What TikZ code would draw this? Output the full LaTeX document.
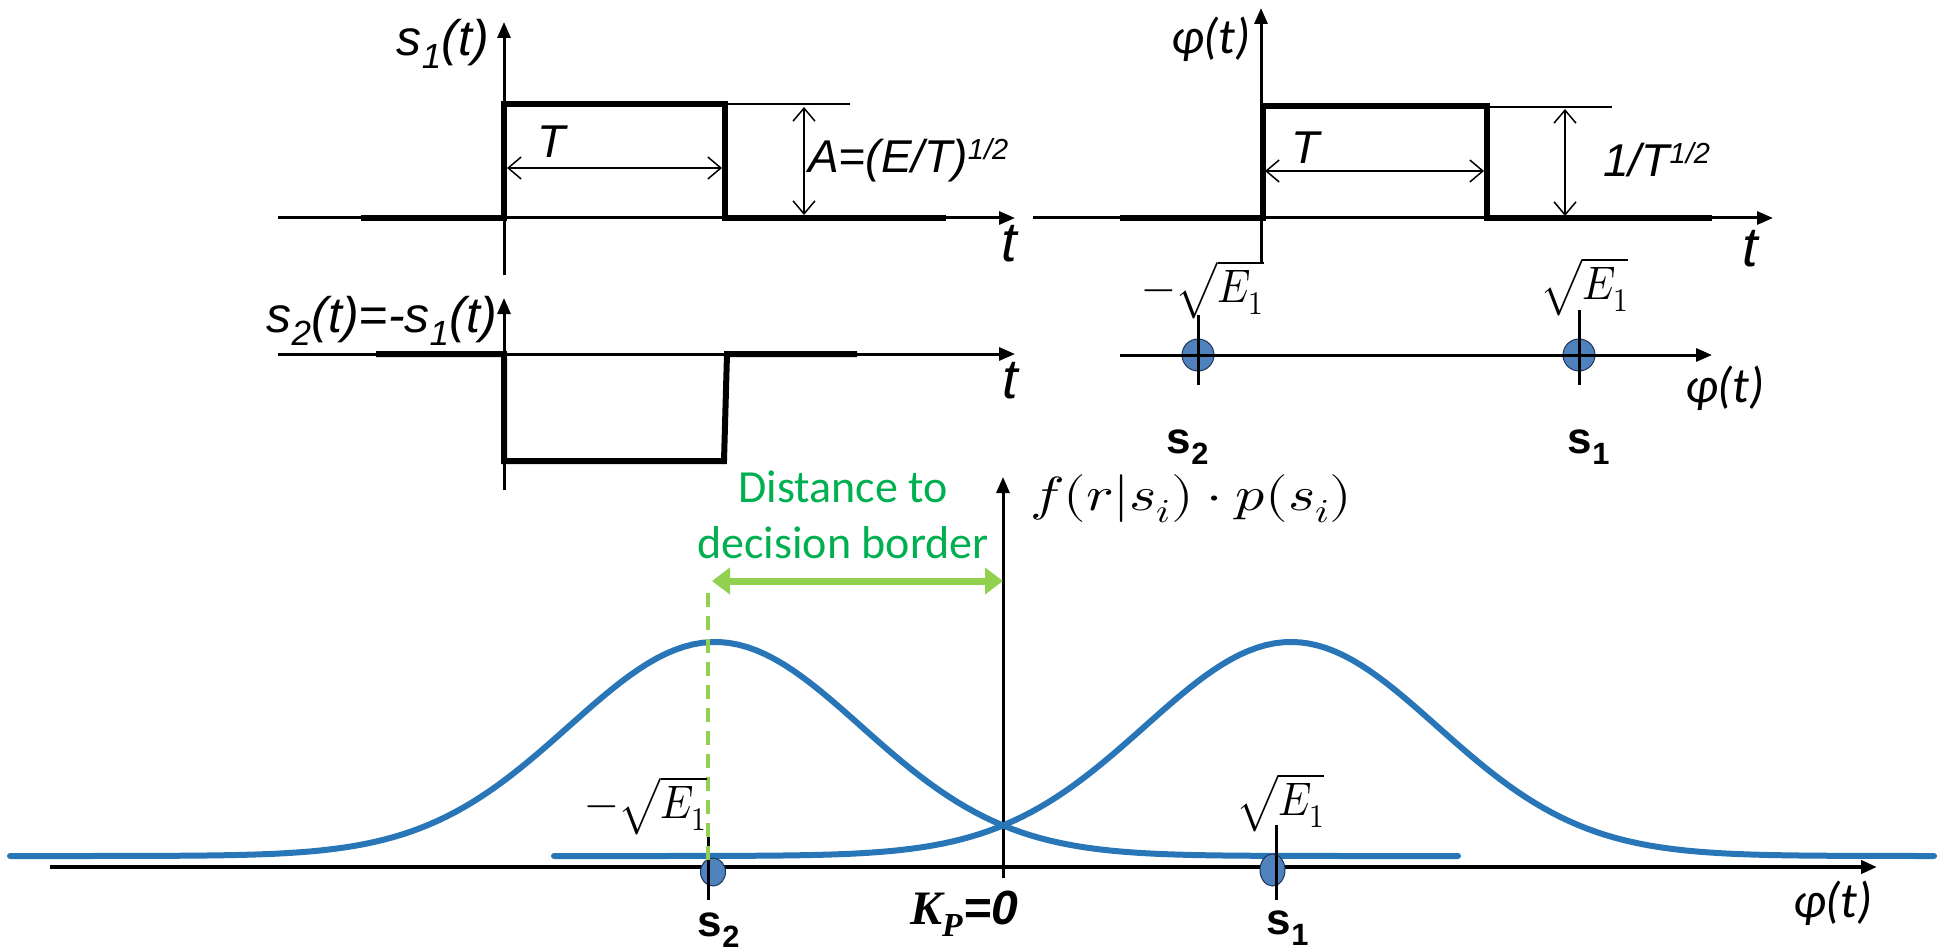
\documentclass[tikz,border=0pt]{standalone}
\usepackage{fontspec}
\usepackage{unicode-math}
\setmathfont{Latin Modern Math}
\setmainfont{Liberation Sans}
\newfontfamily\carlito{Carlito}
\newfontfamily\lserif{Liberation Serif}
\usetikzlibrary{arrows.meta}
\definecolor{gblue}{RGB}{40,118,184}
\definecolor{ptfill}{RGB}{79,129,189}
\definecolor{ptdraw}{RGB}{30,50,90}
\definecolor{lgreen}{RGB}{146,208,80}
\definecolor{tgreen}{RGB}{0,176,80}
\newcommand{\supsmall}[1]{\raisebox{13pt}{\fontsize{29}{30}\selectfont #1}}
\newcommand{\tallmath}[1]{\scalebox{1}[1.12]{#1}}
\begin{document}
\begin{tikzpicture}[x=1pt,y=-1pt,
  axis/.style={line width=3pt,-{Triangle[length=16pt,width=13pt]}},
  sig/.style={line width=6pt,line join=miter},
  thinline/.style={line width=1.5pt},
  dimarrow/.style={line width=1.5pt,{Straight Barb[length=13pt,width=22pt]}-{Straight Barb[length=13pt,width=22pt]}},
  lbl/.style={font=\fontsize{46}{50}\selectfont\itshape,inner sep=0pt},
  slbl/.style={font=\fontsize{50}{54}\selectfont\itshape,inner sep=0pt},
  tlbl/.style={font=\fontsize{56}{60}\selectfont\itshape,inner sep=0pt},
  philbl/.style={font=\fontsize{50}{54}\selectfont\carlito\itshape,inner sep=0pt},
  mlbl/.style={font=\fontsize{42}{46}\selectfont,inner sep=0pt},
  blbl/.style={font=\fontsize{44}{48}\selectfont\bfseries,inner sep=0pt},
  gtext/.style={font=\fontsize{46}{56}\selectfont\carlito,text=tgreen,align=center,inner sep=0pt},
  gauss/.style={gblue,line width=6pt,line cap=round},
  pt/.style={draw=ptdraw,fill=ptfill,line width=1pt},
  tick/.style={line width=3pt}
]
\useasboundingbox (0,0) rectangle (1939,952);

% ---------- s1(t) ----------
\draw[axis] (504,275) -- (504,22);
\draw[axis] (278,218) -- (1015,218);
\draw[sig] (361,218) -- (504,218) -- (504,104) -- (725,104) -- (725,218) -- (946,218);
\draw[thinline] (725,104) -- (850,104);
\draw[dimarrow] (804,107) -- (804,215);
\draw[dimarrow] (507,168) -- (722,168);
\node[lbl] (T1) at (552,142) {T};
\node[lbl,anchor=west] (A1) at (808,160) {A=(E/T)\supsmall{1/2}};
\node[slbl] (s1t) at (443,44) {s\textsubscript{1}(t)};
\node[tlbl] (t1) at (1009,244) {t};

% ---------- s2(t) ----------
\draw[axis] (504,490) -- (504,298);
\draw[axis] (278,354) -- (1015,354);
\draw[sig] (376,354) -- (504,354) -- (504,461) -- (724,461) -- (727,354) -- (857,354);
\node[slbl,anchor=east] (s2t) at (497,321) {s\textsubscript{2}(t)=-s\textsubscript{1}(t)};
\node[tlbl] (t2) at (1010,381) {t};

% ---------- phi(t) ----------
\draw[axis] (1261,262) -- (1261,8);
\draw[axis] (1033,218) -- (1773,218);
\draw[sig] (1120,218) -- (1263,218) -- (1263,106) -- (1487,106) -- (1487,218) -- (1712,218);
\draw[thinline] (1487,107) -- (1612,107);
\draw[dimarrow] (1565,109) -- (1565,216);
\draw[dimarrow] (1265,171) -- (1484,171);
\node[lbl] (T2) at (1306,148) {T};
\node[lbl,anchor=west] (invT) at (1603,160) {1/T\supsmall{1/2}};
\node[philbl] (phit) at (1211,39) {φ(t)};
\node[tlbl] (t3) at (1750,249) {t};

% ---------- constellation ----------
\draw[pt] (1198,355) ellipse [x radius=16,y radius=16];
\draw[pt] (1579,355) ellipse [x radius=16,y radius=16];
\draw[axis] (1120,355) -- (1712,355);
\draw[tick] (1198,315) -- (1198,385);
\draw[tick] (1579,310) -- (1579,385);
\node[mlbl,anchor=north east] (mE1) at (1264,260) {\tallmath{$-\sqrt{E_1}$}};
\node[mlbl,anchor=north west] (pE1) at (1540,257) {\tallmath{$\sqrt{E_1}$}};
\node[blbl] (cs2) at (1188,447) {s\textsubscript{2}};
\node[blbl] (cs1) at (1589,447) {s\textsubscript{1}};
\node[philbl] (phi2) at (1725,388) {φ(t)};

% ---------- bottom densities ----------
\draw[axis,line width=4pt] (50,867) -- (1877,867);
\draw[axis] (1003,878) -- (1003,477);
\draw[gauss] plot[domain=10:1458,samples=160] (\x,{856-214*exp(-0.5*((\x-715)/146)^2)});
\draw[gauss] plot[domain=554:1934,samples=160] (\x,{856-214*exp(-0.5*((\x-1291)/146)^2)});
\draw[pt] (713,872) ellipse [x radius=12.5,y radius=14];
\draw[pt] (1272.5,870) ellipse [x radius=12.5,y radius=16];
\draw[tick] (708,827) -- (708,900);
\draw[tick] (1276,825) -- (1276,900);
\draw[lgreen,line width=4pt,dash pattern=on 14pt off 9pt] (708,593) -- (708,867);
\draw[lgreen,line width=7pt,{Triangle[length=18pt,width=26pt]}-{Triangle[length=18pt,width=26pt]}] (712,581) -- (1003,581);
\node[gtext] (dist) at (843,515) {Distance to\\decision border};
\node[anchor=west,inner sep=0pt,font=\fontsize{52}{56}\selectfont] (fr) at (1030,499) {\scalebox{1.115}[0.92]{$f(r|s_i)\cdot p(s_i)$}};
\node[mlbl,anchor=north east] (bmE1) at (707,776) {\tallmath{$-\sqrt{E_1}$}};
\node[mlbl,anchor=north west] (bpE1) at (1236,773) {\tallmath{$\sqrt{E_1}$}};
\node[blbl] (bs2) at (719,930) {s\textsubscript{2}};
\node[blbl] (bs1) at (1288,928) {s\textsubscript{1}};
\node[font=\fontsize{48}{52}\selectfont\bfseries\itshape,inner sep=0pt] (kp) at (964,914) {{\lserif K\textsubscript{P}}=0};
\node[philbl] (phi3) at (1833,903) {φ(t)};
\end{tikzpicture}
\end{document}
